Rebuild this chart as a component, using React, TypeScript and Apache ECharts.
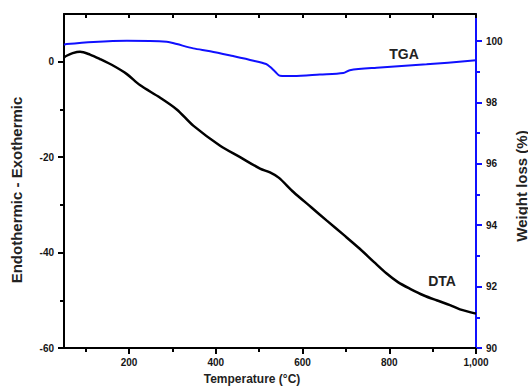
import React, { useEffect, useRef } from "react";
import * as echarts from "echarts";

// DTA curve (left axis)
const dtaTemps = [50, 56, 70, 87, 110, 133, 165, 195, 225, 271, 310, 348, 410, 456, 502, 525, 545, 579, 620, 656, 695, 732, 765, 794, 820, 848, 880, 909, 940, 963, 1000];
const dtaValues = [0.9, 1.25, 1.8, 2.1, 1.5, 0.56, -0.9, -2.6, -4.9, -7.5, -10.0, -13.4, -17.6, -20.0, -22.4, -23.2, -24.3, -27.3, -30.5, -33.3, -36.3, -39.2, -42.0, -44.4, -46.2, -47.6, -49.0, -50.0, -51.0, -51.9, -52.8];

// TGA curve (right axis)
const tgaTemps = [50, 56, 118, 195, 287, 310, 348, 387, 440, 487, 516, 525, 537, 548, 579, 640, 694, 709, 771, 886, 1000];
const tgaValues = [99.88, 99.9, 99.97, 100.01, 99.98, 99.9, 99.76, 99.67, 99.51, 99.36, 99.25, 99.16, 99.0, 98.87, 98.86, 98.91, 98.96, 99.05, 99.13, 99.24, 99.37];

// ticks
const xMajorTicks = [200, 400, 600, 800, 1000];
const xMinorTicks = [100, 300, 500, 700, 900];
const xTopTicks = [100, 200, 300, 400, 500, 600, 700, 800, 900, 1000];
const leftMajorTicks = [-60, -40, -20, 0];
const leftMinorTicks = [-50, -30, -10];
const rightMajorTicks = [90, 92, 94, 96, 98, 100];
const rightMinorTicks = [91, 93, 95, 97, 99];

const FONT = "Arial, 'Liberation Sans', Helvetica, sans-serif";
const BLUE = "#1010ff";

export default function App() {
  const ref = useRef<HTMLDivElement>(null);
  useEffect(() => {
    if (!ref.current) return;
    const chart = echarts.init(ref.current, null, { renderer: "svg" });
    const labelStyle = { fontSize: 10, fontWeight: "bold", color: "#151515", fontFamily: FONT };
    const blackLine = { color: "#000", width: 2 };
    const blueLine = { color: BLUE, width: 2 };
    chart.setOption({
      animation: false,
      backgroundColor: "#fff",
      grid: { left: 64, right: 52, top: 14, bottom: 41, containLabel: false },
      xAxis: [
        {
          type: "value", position: "bottom", min: 50, max: 1000,
          axisLine: { show: true, onZero: false, lineStyle: blackLine },
          axisTick: { show: true, customValues: xMajorTicks, length: 6, lineStyle: blackLine },
          axisLabel: { ...labelStyle, customValues: xMajorTicks, margin: 9 },
          splitLine: { show: false },
        },
        {
          type: "value", position: "bottom", min: 50, max: 1000,
          axisLine: { show: false, onZero: false },
          axisTick: { show: true, customValues: xMinorTicks, length: 4, lineStyle: blackLine },
          axisLabel: { show: false },
          splitLine: { show: false },
        },
        {
          type: "value", position: "top", min: 50, max: 1000,
          axisLine: { show: true, onZero: false, lineStyle: blackLine },
          axisTick: { show: true, inside: true, customValues: xTopTicks, length: 4, lineStyle: blackLine },
          axisLabel: { show: false },
          splitLine: { show: false },
        },
      ],
      yAxis: [
        {
          type: "value", position: "left", min: -60, max: 10,
          axisLine: { show: true, onZero: false, lineStyle: blackLine },
          axisTick: { show: true, customValues: leftMajorTicks, length: 6, lineStyle: blackLine },
          axisLabel: { ...labelStyle, customValues: leftMajorTicks, margin: 10 },
          splitLine: { show: false },
        },
        {
          type: "value", position: "right", min: 90, max: 100.88,
          axisLine: { show: true, onZero: false, lineStyle: blueLine },
          axisTick: { show: true, customValues: rightMajorTicks, length: 6, lineStyle: blueLine },
          axisLabel: { ...labelStyle, customValues: rightMajorTicks, margin: 10 },
          splitLine: { show: false },
        },
        {
          type: "value", position: "left", min: -60, max: 10,
          axisLine: { show: false, onZero: false },
          axisTick: { show: true, customValues: leftMinorTicks, length: 4, lineStyle: blackLine },
          axisLabel: { show: false },
          splitLine: { show: false },
        },
        {
          type: "value", position: "right", min: 90, max: 100.88,
          axisLine: { show: false, onZero: false },
          axisTick: { show: true, customValues: rightMinorTicks, length: 4, lineStyle: blueLine },
          axisLabel: { show: false },
          splitLine: { show: false },
        },
      ],
      series: [
        {
          name: "DTA", type: "line", xAxisIndex: 0, yAxisIndex: 0,
          data: dtaTemps.map((t, i) => [t, dtaValues[i]]),
          smooth: 0.3, showSymbol: false,
          lineStyle: { color: "#000", width: 2.5 },
        },
        {
          name: "TGA", type: "line", xAxisIndex: 0, yAxisIndex: 1,
          data: tgaTemps.map((t, i) => [t, tgaValues[i]]),
          smooth: 0.3, showSymbol: false,
          lineStyle: { color: BLUE, width: 2 },
        },
      ],
      graphic: [
        { type: "text", x: 404, y: 54, style: { text: "TGA", fontSize: 14, fontWeight: "bold", fill: "#222", fontFamily: FONT, align: "center", verticalAlign: "middle" } },
        { type: "text", x: 442, y: 281, style: { text: "DTA", fontSize: 14, fontWeight: "bold", fill: "#222", fontFamily: FONT, align: "center", verticalAlign: "middle" } },
        { type: "text", x: 252, y: 379, style: { text: "Temperature (°C)", fontSize: 12, fontWeight: "bold", fill: "#222", fontFamily: FONT, align: "center", verticalAlign: "middle" } },
        { type: "text", x: 16, y: 190, rotation: Math.PI / 2, style: { text: "Endothermic - Exothermic", fontSize: 15, fontWeight: "bold", fill: "#222", fontFamily: FONT, align: "center", verticalAlign: "middle" } },
        { type: "text", x: 521, y: 186, rotation: Math.PI / 2, style: { text: "Weight loss (%)", fontSize: 15, fontWeight: "bold", fill: "#222", fontFamily: FONT, align: "center", verticalAlign: "middle" } },
      ],
    });
    return () => chart.dispose();
  }, []);
  return <div ref={ref} style={{ width: 528, height: 389, position: "fixed", left: 0, top: 0 }} />;
}
